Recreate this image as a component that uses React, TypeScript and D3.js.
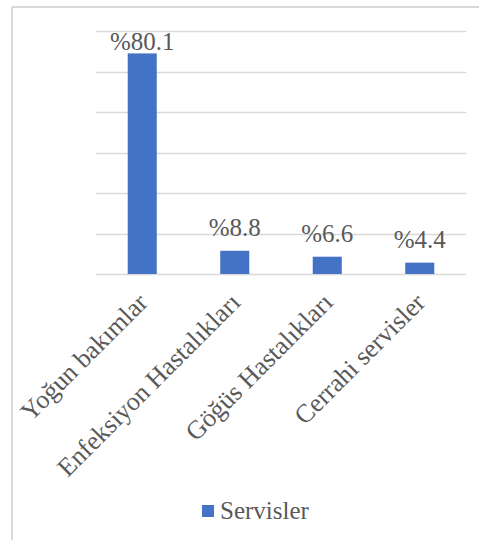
import React from "react";
import * as d3 from "d3";

const categories = ["Yoğun bakımlar", "Enfeksiyon Hastalıkları", "Göğüs Hastalıkları", "Cerrahi servisler"];
const values = [81.7, 8.6, 6.4, 4.2];
const valueLabels = ["%80.1", "%8.8", "%6.6", "%4.4"];
const yTicks = [0, 15, 30, 45, 60, 75, 90];
const seriesName = "Servisler";

const W = 479;
const H = 540;
const FONT = "Liberation Serif, Times New Roman, serif";
const TEXT = "#595959";
const BAR = "#4472C4";
const GRID = "#d9d9d9";

export default function App() {
  const x = d3.scaleBand<string>().domain(categories).range([96, 466]).paddingInner(0.686).paddingOuter(0.343);
  const y = d3.scaleLinear().domain([0, 90]).range([274, 31]);
  return (
    <svg width={W} height={H} style={{ position: "absolute", left: 0, top: 0, background: "#fff", fontFamily: FONT }}>
      <rect x={0} y={0} width={W} height={H} fill="#fff" />
      <line x1={12} y1={7} x2={W} y2={7} stroke={GRID} strokeWidth={2} />
      <line x1={12} y1={7} x2={12} y2={H} stroke={GRID} strokeWidth={2} />
      {yTicks.map((t) => (
        <line key={t} x1={96} x2={466} y1={Math.round(y(t)) + 0.5} y2={Math.round(y(t)) + 0.5} stroke={GRID} strokeWidth={1.3} />
      ))}
      {categories.map((c, i) => (
        <rect key={c} x={x(c)} y={y(values[i])} width={x.bandwidth()} height={y(0) - y(values[i])} fill={BAR} />
      ))}
      {categories.map((c, i) => (
        <text key={"v" + c} x={(x(c) as number) + x.bandwidth() / 2} y={Math.max(y(values[i]) - 15, 50)} textAnchor="middle" style={{ fontFamily: FONT, fontSize: 25 }} fill={TEXT}>
          {valueLabels[i]}
        </text>
      ))}
      {categories.map((c) => {
        const cx = (x(c) as number) + x.bandwidth() / 2;
        return (
          <text key={"c" + c} transform={`translate(${cx + 7},${304}) rotate(-45)`} textAnchor="end" style={{ fontFamily: FONT, fontSize: 26 }} fill={TEXT}>
            {c}
          </text>
        );
      })}
      <rect x={202} y={505} width={12} height={12} fill={BAR} />
      <text x={220} y={519} style={{ fontFamily: FONT, fontSize: 25 }} fill={TEXT}>{seriesName}</text>
    </svg>
  );
}
